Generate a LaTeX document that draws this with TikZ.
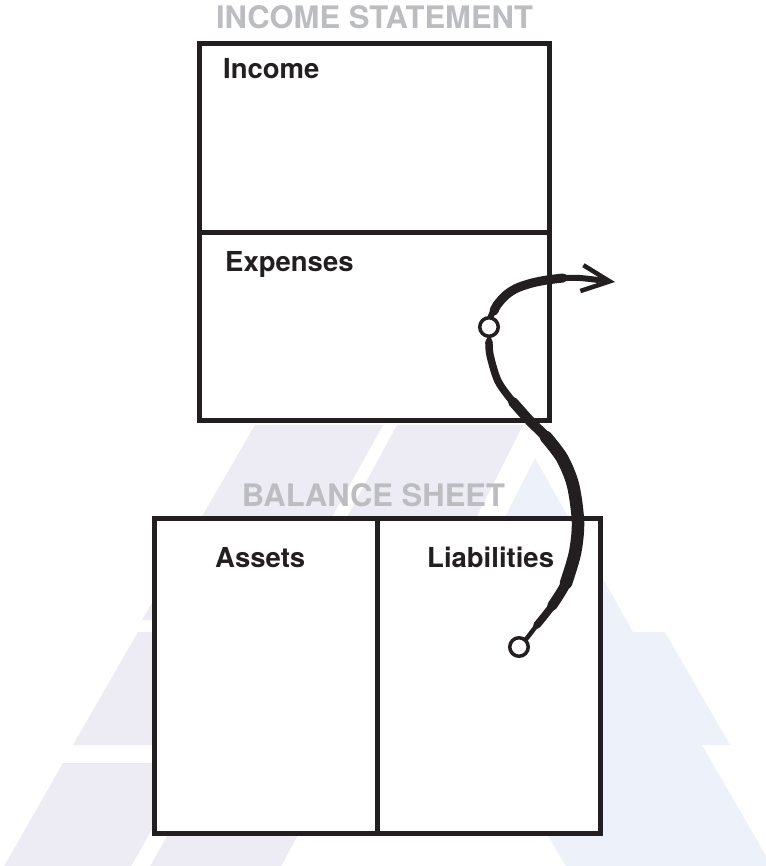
\documentclass[tikz,border=0pt]{standalone}
\usepackage{fontspec}
\setmainfont{TeX Gyre Heros}
\usetikzlibrary{arrows.meta}
\definecolor{ink}{HTML}{231F20}
\definecolor{lav}{HTML}{EDECF5}
\definecolor{sky}{HTML}{EDF2FA}
\definecolor{ttl}{HTML}{BCBDC0}
\begin{document}
\begin{tikzpicture}[x=1pt,y=-1pt,
  lbl/.style={anchor=base west, inner sep=0pt, font=\fontsize{27.5}{32}\selectfont\bfseries, text=ink},
  ttlstyle/.style={anchor=base, inner sep=0pt, font=\fontsize{31}{36}\selectfont\bfseries, text=ttl},
  frame/.style={draw=ink, line width=5pt, fill=white, rectangle, inner sep=0pt},
  dot/.style={circle, draw=ink, line width=3.5pt, fill=white, minimum size=18.5pt, inner sep=0pt},
  brush/.style={draw=ink, line cap=round, line join=round},
  bg1/.style={fill=lav, draw=none},
  bg2/.style={fill=sky, draw=none}]
\useasboundingbox (0,0) rectangle (765,866);
\fill[white] (0,0) rectangle (765,866);
% background logo
\path[bg1] (255,425) -- (383,425) -- (275,620) -- (142,620) -- cycle;
\path[bg1] (397,425) -- (523,425) -- (470,530) -- (340,530) -- cycle;
\path[bg1] (138,632) -- (210,632) -- (210,745) -- (73,745) -- cycle;
\path[bg1] (63,763) -- (210,763) -- (210,815) -- (160,815) -- (129,870) -- (2,870) -- cycle;
\path[bg1] (148,870) -- (176,820) -- (306,820) -- (279,870) -- cycle;
\path[bg2] (535,458) -- (633,632) -- (665,632) -- (730,745) -- (702,745) -- (780,880) -- (574,880) -- (540,822) -- (505,517) -- cycle;
% boxes
\node[frame, minimum width=350pt, minimum height=376.5pt] (isbox) at (374.5,232.25) {};
\draw[ink, line width=5pt] (isbox.west) -- (isbox.east);
\node[frame, minimum width=446pt, minimum height=315pt] (bsbox) at (377.5,676) {};
\draw[ink, line width=5pt] (bsbox.north) -- (bsbox.south);
% titles and labels
\node[ttlstyle] (t1) at (374.5,28.5) {INCOME STATEMENT};
\node[ttlstyle] (t2) at (373.5,506) {BALANCE SHEET};
\node[lbl] (inc) at (223,79) {Income};
\node[lbl] (exp) at (225,272) {Expenses};
\node[lbl] (ast) at (215,567) {Assets};
\node[lbl] (lia) at (427,567) {Liabilities};
% curve
\coordinate (c1) at (519,647);
\coordinate (c2) at (489,327);
\coordinate (tip) at (615,282);
\draw[brush, line width=4.5pt] plot[smooth] coordinates {(c1) (527,638) (537,625) (552,606) (566,583) (575,553) (578,522) (573,485) (562,458) (546,437) (530,421) (513,402) (498,381) (490,355) (c2)};
\draw[brush, line width=7.5pt] plot[smooth] coordinates {(537,625) (552,606) (566,583) (575,553) (578,522) (573,485) (562,458) (546,437) (530,421) (513,402) (498,381) (490,355) (489,342)};
\draw[brush, line width=10pt] plot[smooth] coordinates {(552,606) (566,583) (575,553) (578,522) (573,485) (562,458) (546,437) (530,421) (513,402)};
\draw[brush, line width=12.5pt] plot[smooth] coordinates {(566,583) (575,553) (578,522) (573,485) (562,458) (546,437)};
\draw[brush, line width=6pt] plot[smooth] coordinates {(c2) (491,316) (497,305) (506,295) (517,288) (532,283) (547,280) (565,278) (580,278) (598,280)};
\draw[brush, line width=9pt] plot[smooth] coordinates {(494,311) (497,305) (506,295) (517,288) (532,283) (547,280) (563,278)};
\draw[ink, line width=4.5pt, -{Straight Barb[length=28pt,width=26pt]}] (598,280) -- (tip);
\node[dot] (d1) at (c1) {};
\node[dot] (d2) at (c2) {};
\end{tikzpicture}
\end{document}
